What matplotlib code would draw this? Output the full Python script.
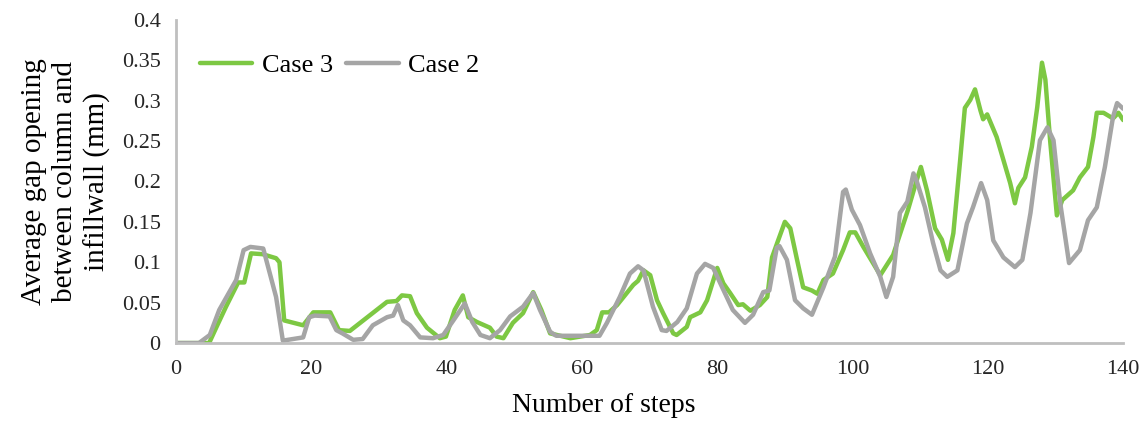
import numpy as np
import matplotlib
matplotlib.use("Agg")
import matplotlib.pyplot as plt
from matplotlib.ticker import FuncFormatter

plt.rcParams['font.family'] = ['Liberation Serif', 'DejaVu Serif']

# Case 3 (green)
steps_c3 = [0, 3, 4.9, 6, 7.4, 9.2, 10.1, 11.1, 12.8, 14.8, 15.3, 16, 18.8, 20.3, 22.8, 24.1,
            25.7, 31.2, 32.6, 33.4, 34.6, 35.6, 37.1, 39, 39.9, 41.2, 42.4, 43.2, 44.5, 46.4,
            47.4, 48.4, 49.8, 51.3, 52.8, 54, 55.3, 58.3, 61.2, 62.2, 63, 64, 65.2, 67.6, 68.3,
            69.1, 70.1, 71.1, 72, 73.5, 74, 75.5, 76, 77.5, 78.5, 80, 80.9, 81.9, 83.1, 83.8,
            84.9, 86.3, 87.4, 88.1, 89, 90, 90.8, 91.8, 92.7, 94, 94.8, 95.7, 97.1, 98.6, 99.6,
            100.4, 101.6, 104.1, 106, 108.2, 109.5, 110.1, 111, 112.2, 113.2, 114.1, 114.9,
            115.9, 116.6, 117.4, 118.1, 118.9, 119.3, 119.9, 120.3, 121.3, 122.6, 123.3, 124,
            124.5, 125.5, 126.5, 127.3, 128, 128.5, 129.2, 130.2, 131, 132.6, 133.6, 134.8,
            135.6, 136.1, 137.1, 138.5, 139.3, 140]
case3 = [0, 0, 0, 0.02, 0.045, 0.075, 0.075, 0.111, 0.11, 0.105, 0.1, 0.028, 0.022, 0.038,
         0.038, 0.016, 0.015, 0.051, 0.052, 0.059, 0.058, 0.037, 0.019, 0.006, 0.008, 0.041,
         0.059, 0.032, 0.026, 0.019, 0.008, 0.006, 0.025, 0.037, 0.063, 0.041, 0.012, 0.006,
         0.01, 0.016, 0.038, 0.038, 0.047, 0.072, 0.077, 0.09, 0.084, 0.053, 0.037, 0.012,
         0.01, 0.02, 0.032, 0.038, 0.053, 0.093, 0.074, 0.062, 0.047, 0.048, 0.04, 0.047,
         0.057, 0.106, 0.127, 0.15, 0.142, 0.103, 0.069, 0.065, 0.061, 0.078, 0.086, 0.115,
         0.137, 0.137, 0.119, 0.084, 0.109, 0.165, 0.202, 0.218, 0.189, 0.142, 0.128, 0.103,
         0.136, 0.226, 0.291, 0.301, 0.314, 0.288, 0.277, 0.283, 0.275, 0.255, 0.218, 0.198,
         0.173, 0.192, 0.205, 0.243, 0.292, 0.347, 0.326, 0.251, 0.158, 0.177, 0.189, 0.205,
         0.218, 0.255, 0.285, 0.285, 0.278, 0.285, 0.276]

# Case 2 (gray)
steps_c2 = [0, 3.4, 5, 6.4, 8.9, 10, 11, 12.9, 14.8, 15.8, 18.8, 19.7, 20.5, 22.7, 23.7, 24.6,
            26.2, 27.6, 29.1, 31.2, 32.1, 32.8, 33.6, 34.6, 36.1, 38, 39.5, 41, 42.7, 43.8, 45,
            46.4, 47.9, 49.4, 51.3, 52.8, 53.8, 55.3, 56.2, 59.2, 62.6, 63.7, 65.6, 67.1, 68.3,
            69.1, 70.5, 71.8, 72.5, 74.1, 75.5, 77, 78.2, 79.4, 80.9, 82.3, 84.1, 85.3, 86.8,
            87.7, 88.8, 89.2, 90.3, 91.5, 92.7, 94, 95.7, 97.4, 98.6, 99, 99.9, 101.1, 102.6,
            104.1, 105, 106, 107, 108.1, 109, 109.5, 110.7, 111.9, 113, 114, 115.5, 116.9,
            117.8, 119, 119.9, 120.8, 122.3, 124, 125.1, 126.3, 127.7, 128.8, 129.7, 130.7,
            132, 133.6, 134.8, 136.1, 137.3, 138.5, 139.1, 140]
case2 = [0, 0, 0.01, 0.041, 0.078, 0.115, 0.119, 0.117, 0.057, 0.003, 0.007, 0.032, 0.034,
         0.033, 0.016, 0.012, 0.004, 0.005, 0.022, 0.032, 0.034, 0.047, 0.028, 0.022, 0.007,
         0.006, 0.01, 0.028, 0.049, 0.026, 0.01, 0.006, 0.016, 0.033, 0.045, 0.062, 0.041,
         0.014, 0.009, 0.009, 0.009, 0.025, 0.057, 0.086, 0.095, 0.09, 0.045, 0.016, 0.015,
         0.026, 0.043, 0.086, 0.098, 0.093, 0.066, 0.041, 0.025, 0.035, 0.063, 0.065, 0.118,
         0.12, 0.103, 0.053, 0.043, 0.035, 0.069, 0.107, 0.187, 0.19, 0.165, 0.146, 0.111,
         0.082, 0.057, 0.082, 0.161, 0.175, 0.21, 0.2, 0.168, 0.124, 0.09, 0.082, 0.09, 0.148,
         0.168, 0.198, 0.177, 0.127, 0.106, 0.094, 0.103, 0.161, 0.251, 0.267, 0.251, 0.173,
         0.099, 0.115, 0.152, 0.168, 0.218, 0.28, 0.297, 0.29]

green = '#7DC843'
gray = '#A5A5A5'

fig = plt.figure(figsize=(11.44, 4.23), dpi=100)
ax = fig.add_axes([0.1538, 0.189, 0.828, 0.764])

ax.plot(steps_c3, case3, color=green, lw=3.2, label='Case 3',
        solid_joinstyle='round', solid_capstyle='round')
ax.plot(steps_c2, case2, color=gray, lw=3.2, label='Case 2',
        solid_joinstyle='round', solid_capstyle='round')

ax.set_xlim(0, 140)
ax.set_ylim(0, 0.4)
ax.set_xticks(np.arange(0, 141, 20))
ax.set_yticks(np.arange(0, 0.401, 0.05))
ax.yaxis.set_major_formatter(FuncFormatter(lambda v, p: '%g' % round(v, 2)))
ax.tick_params(length=0, labelsize=16, colors='#262626')
ax.tick_params(axis='y', pad=11)
ax.tick_params(axis='x', pad=12)

for s in ['top', 'right']:
    ax.spines[s].set_visible(False)
for s in ['left', 'bottom']:
    ax.spines[s].set_color('#BFBFBF')
    ax.spines[s].set_linewidth(2)

ax.set_xlabel('Number of steps', fontsize=20, labelpad=9)
ax.xaxis.set_label_coords(0.452, -0.155)
ax.set_ylabel('Average gap opening\nbetween column and\ninfillwall (mm)', fontsize=21,
              labelpad=8, linespacing=1.25)

ax.legend(loc='upper left', bbox_to_anchor=(0.0, 0.97), ncol=2, frameon=False,
          fontsize=19, handlelength=2.0, columnspacing=0.5, handletextpad=0.35)

fig.savefig('out.png', dpi=100)
